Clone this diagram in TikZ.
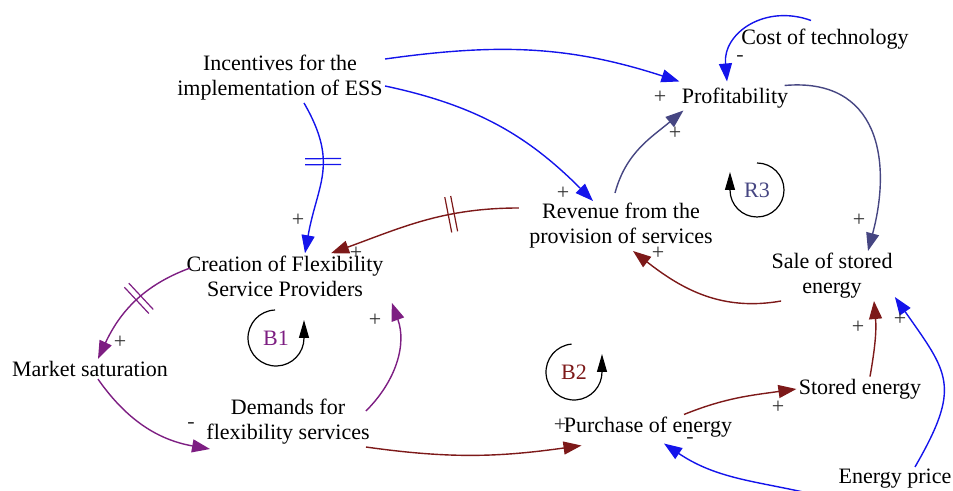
\documentclass[tikz,border=0pt]{standalone}
\usepackage{fontspec}
\setmainfont{Liberation Serif}
\usepackage{tikz}
\usetikzlibrary{arrows.meta,decorations.markings}
\definecolor{linkblue}{RGB}{20,20,235}
\definecolor{linkred}{RGB}{125,25,25}
\definecolor{linkpurple}{RGB}{125,30,130}
\definecolor{linkslate}{RGB}{70,70,130}
\definecolor{signgray}{RGB}{50,50,50}

\begin{document}
\begin{tikzpicture}[x=0.5pt,y=-0.5pt,
  var/.style={font=\fontsize{11}{12.5}\selectfont,align=center,inner sep=1pt},
  polarity/.style={font=\fontsize{11}{12}\selectfont,text=signgray,inner sep=0pt},
  link/.style={line width=0.7pt,-{Triangle[length=9pt,width=6.5pt]}},
  delaymark/.style={postaction={decorate,decoration={markings,mark=at position #1 with {\draw[-,line width=0.6pt] (-1.5pt,-9pt) -- (-1.5pt,9pt) (1.5pt,-9pt) -- (1.5pt,9pt);}}}},
  loopmark/.style={line width=0.6pt,-{Triangle[length=9pt,width=5pt]}}]
  \useasboundingbox (0,0) rectangle (953,491);
  \node[var] (inc) at (280,78) {Incentives for the\\implementation of ESS};
  \node[var] (cost) at (825,39) {Cost of technology};
  \node[var] (prof) at (735,98) {Profitability};
  \node[var] (rev) at (621,226) {Revenue from the\\provision of services};
  \node[var] (cre) at (285,276) {Creation of Flexibility\\Service Providers};
  \node[var] (sale) at (832,276) {Sale of stored\\energy};
  \node[var] (mkt) at (90,369) {Market saturation};
  \node[var] (dem) at (288,422) {Demands for\\flexibility services};
  \node[var] (pur) at (648,427) {Purchase of energy};
  \node[var] (stored) at (860,389) {Stored energy};
  \node[var] (price) at (895,479) {Energy price};
  \draw[link,linkblue] ([yshift=-3pt]inc.north east) to[out=8,in=162] ([yshift=2pt]prof.north west);
  \draw[link,linkblue] ([yshift=-4pt]inc.east) to[out=-12,in=135] ([xshift=-14pt]rev.north);
  \draw[link,linkblue,delaymark=0.4] ([xshift=12pt]inc.south) to[out=-60,in=80,looseness=1.2] ([xshift=10pt]cre.north);
  \draw[link,linkblue] ([xshift=-7pt,yshift=3pt]cost.north) to[out=160,in=95,looseness=1.2] ([xshift=-4pt,yshift=2pt]prof.north);
  \draw[link,linkslate] ([xshift=-3pt]prof.north east) to[out=5,in=75,looseness=1.3] ([xshift=18pt]sale.north);
  \draw[link,linkslate] ([xshift=-3pt,yshift=4pt]rev.north) to[out=75,in=220] ([xshift=2pt]prof.south west);
  \draw[link,linkred,delaymark=0.35] ([xshift=-4pt,yshift=9pt]rev.west) to[out=180,in=20] ([xshift=23pt]cre.north);
  \draw[link,linkred] ([xshift=6pt]sale.south west) to[out=190,in=-38] ([xshift=6pt]rev.south);
  \draw[link,linkred] ([xshift=5pt]stored.north) to[out=80,in=-85] ([xshift=21pt]sale.south);
  \draw[link,linkred] ([xshift=18pt]pur.north) to[out=22,in=188] (stored.west);
  \draw[link,linkred] ([xshift=-3pt]dem.south east) to[out=-8,in=188] ([xshift=10pt,yshift=-3pt]pur.south west);
  \draw[link,linkblue] ([xshift=-2pt,yshift=-4pt]price.south west) to[out=165,in=-34] ([xshift=8pt,yshift=-2pt]pur.south);
  \draw[link,linkblue] ([xshift=10pt]price.north) to[out=60,in=-55,looseness=1.4] ([yshift=2pt]sale.south east);
  \draw[link,linkpurple,delaymark=0.45] ([xshift=3pt,yshift=4pt]cre.west) to[out=200,in=65] ([xshift=4pt]mkt.north);
  \draw[link,linkpurple] ([xshift=4pt]mkt.south) to[out=-55,in=170] ([xshift=3pt,yshift=-1pt]dem.south west);
  \draw[link,linkpurple] ([xshift=-3pt,yshift=-7pt]dem.north east) to[out=45,in=-70] ([xshift=3pt,yshift=-2pt]cre.south east);
  \node[polarity] (s1) at (660,97) {+};
  \node[polarity] (s2) at (740,59) {-};
  \node[polarity] (s3) at (675,133) {+};
  \node[polarity] (s4) at (859,220) {+};
  \node[polarity] (s5) at (563,193) {+};
  \node[polarity] (s6) at (298,220) {+};
  \node[polarity] (s7) at (356,253) {+};
  \node[polarity] (s8) at (120,342) {+};
  \node[polarity] (s9) at (191,425) {-};
  \node[polarity] (s10) at (375,320) {+};
  \node[polarity] (s11) at (658,253) {+};
  \node[polarity] (s12) at (858,327) {+};
  \node[polarity] (s13) at (900,319) {+};
  \node[polarity] (s14) at (778,407) {+};
  \node[polarity] (s15) at (560,425) {+};
  \node[polarity] (s16) at (690,440) {-};
  \node[var,text=linkslate] (r3) at (757,190) {R3};
  \node[var,text=linkpurple] (b1) at (276,338) {B1};
  \node[var,text=linkred] (b2) at (574,372) {B2};
  \draw[loopmark] ([shift={(90:13.5pt)}]r3.center) arc[start angle=90,end angle=-180,radius=13.5pt] -- ++(0,-18);
  \draw[loopmark] ([shift={(92:14pt)}]b1.center) arc[start angle=92,end angle=360,radius=14pt] -- ++(0,-18);
  \draw[loopmark] ([shift={(95:14pt)}]b2.center) arc[start angle=95,end angle=360,radius=14pt] -- ++(0,-18);
\end{tikzpicture}
\end{document}
